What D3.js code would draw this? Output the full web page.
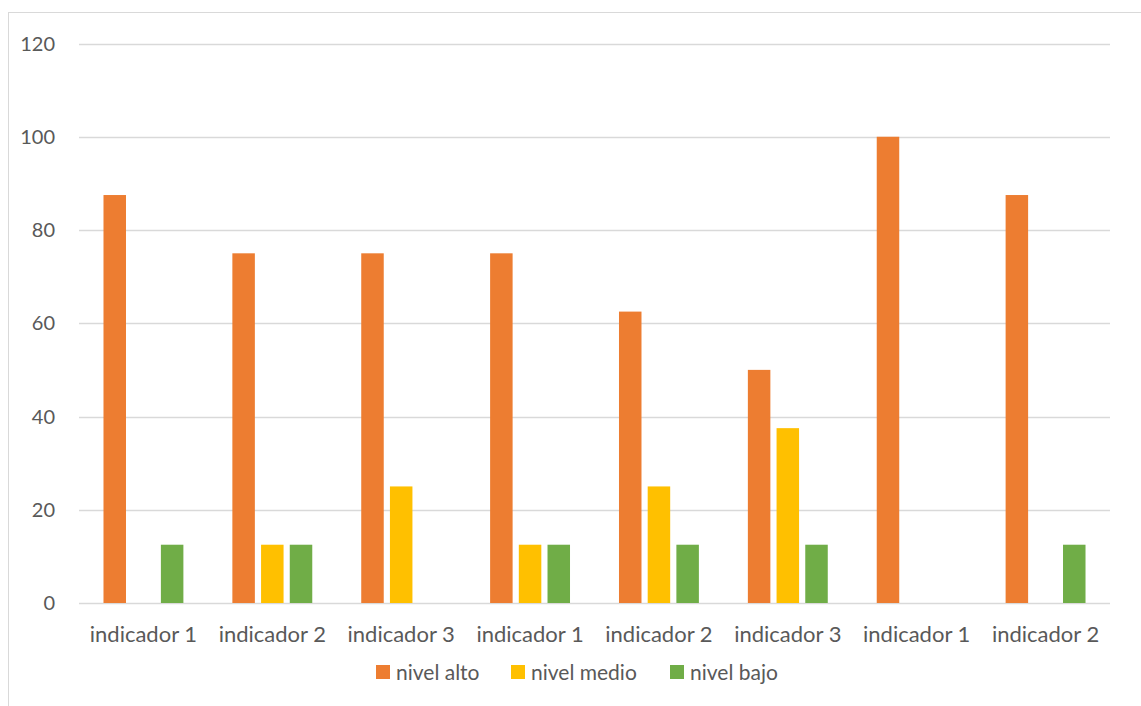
<!DOCTYPE html>
<html><head><meta charset="utf-8">
<script src="https://cdn.jsdelivr.net/npm/d3@7/dist/d3.min.js"></script>
<style>body{margin:0;background:#fff;} text{font-family:Lato,"Open Sans",sans-serif;fill:#595959;}</style>
</head><body><svg id="c" width="1141" height="706"></svg>
<script>
const categories = ["indicador 1","indicador 2","indicador 3","indicador 1","indicador 2","indicador 3","indicador 1","indicador 2"];
const seriesNames = ["nivel alto","nivel medio","nivel bajo"];
const nivelAlto  = [87.5, 75, 75, 75, 62.5, 50, 100, 87.5];
const nivelMedio = [0, 12.5, 25, 12.5, 25, 37.5, 0, 0];
const nivelBajo  = [12.5, 12.5, 0, 12.5, 12.5, 12.5, 0, 12.5];
const yTicks = [0,20,40,60,80,100,120];
const colors = ["#ED7D31","#FFC000","#70AD47"];

(function(){
const series = [nivelAlto, nivelMedio, nivelBajo];
const svg = d3.select("#c");
// chart border
svg.append("rect").attr("x",8.5).attr("y",12.5).attr("width",1160).attr("height",720)
  .attr("fill","none").attr("stroke","#d9d9d9").attr("stroke-width",1);

const pLeft=79, pRight=1110, pTop=43.5, pBottom=603;
const x0 = d3.scaleBand().domain(d3.range(categories.length)).range([pLeft,pRight]).paddingInner(0).paddingOuter(0);
const bw = x0.bandwidth();
const barW = 22.5, step = 28.7;
const y = d3.scaleLinear().domain([0,120]).range([pBottom,pTop]);

// gridlines
svg.append("g").selectAll("line").data(yTicks).join("line")
  .attr("x1",pLeft).attr("x2",pRight).attr("y1",d=>Math.round(y(d))+0.5).attr("y2",d=>Math.round(y(d))+0.5)
  .attr("stroke","#d9d9d9").attr("stroke-width",1.3);

// y labels
svg.append("g").selectAll("text").data(yTicks).join("text")
  .attr("x",55).attr("y",d=>y(d)).attr("dy","0.35em").attr("text-anchor","end")
  .style("font-size","20px").text(d=>d);

// bars
series.forEach((s,si)=>{
  svg.append("g").selectAll("rect").data(s).join("rect")
    .attr("x",(d,i)=>x0(i)+bw/2+(si-1)*step-barW/2)
    .attr("width",barW)
    .attr("y",d=>y(d))
    .attr("height",d=>pBottom-y(d))
    .attr("fill",colors[si]);
});

// category labels
svg.append("g").selectAll("text").data(categories).join("text")
  .attr("x",(d,i)=>x0(i)+bw/2).attr("y",642).attr("text-anchor","middle")
  .style("font-size","22px").text(d=>d);

// legend
const legX = [376, 511, 670];
const lg = svg.append("g").selectAll("g").data(seriesNames).join("g")
  .attr("transform",(d,i)=>`translate(${legX[i]},665)`);
lg.append("rect").attr("width",14).attr("height",14).attr("fill",(d,i)=>colors[i]);
lg.append("text").attr("x",20).attr("y",7).attr("dy","0.36em").style("font-size","21px").text(d=>d);
})();
</script></body></html>
